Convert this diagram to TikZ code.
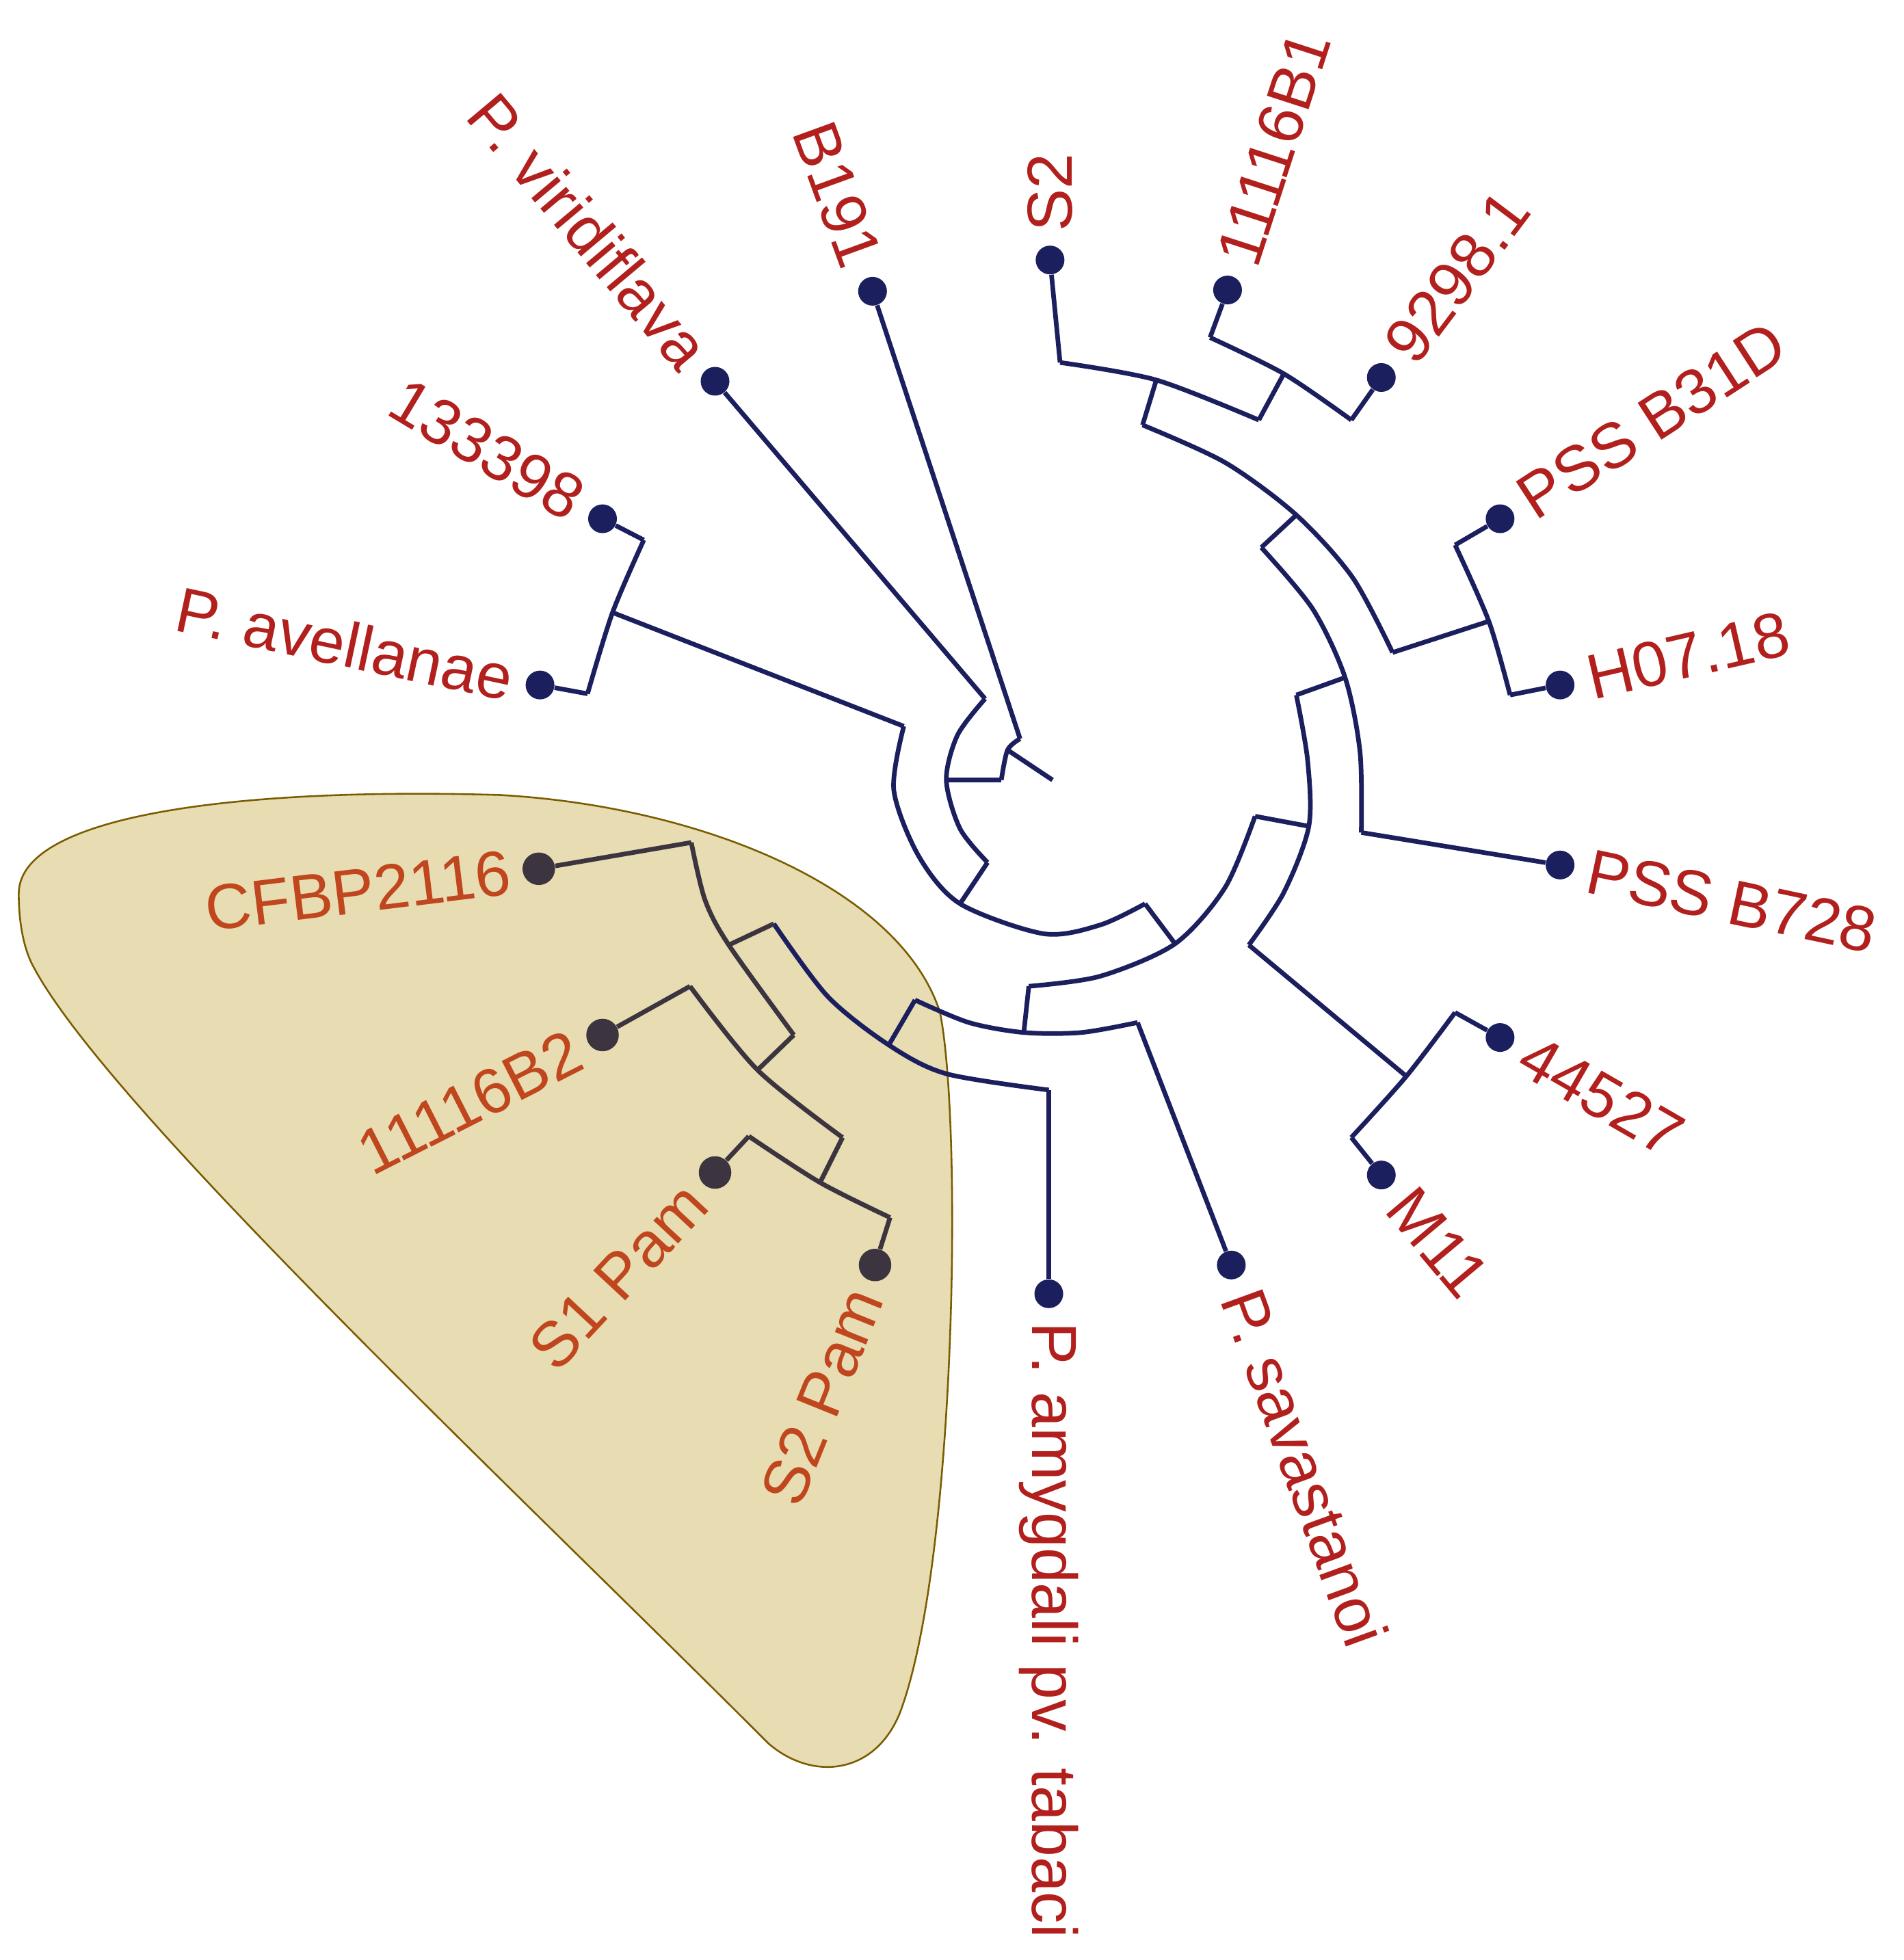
\documentclass[tikz,border=0pt]{standalone}
\usepackage{fontspec}
\setmainfont{Liberation Sans}
\begin{document}
\begin{tikzpicture}[x=0.02cm,y=-0.02cm,
  br/.style={draw=navy,line width=2.1pt,line join=round},
  brg/.style={draw=darkg,line width=2.1pt,line join=round},
  tip/.style={circle,fill=navy,minimum size=0.46cm,inner sep=0pt},
  tipg/.style={circle,fill=darkg,minimum size=0.52cm,inner sep=0pt},
  lr/.style={text=labred,font=\fontsize{29}{32}\selectfont,anchor=west,inner xsep=0.45cm},
  ll/.style={text=labred,font=\fontsize{29}{32}\selectfont,anchor=east,inner xsep=0.45cm},
  lg/.style={text=laborg,font=\fontsize{29}{32}\selectfont,anchor=east,inner xsep=0.45cm}]
\definecolor{navy}{RGB}{27,31,94}
\definecolor{darkg}{RGB}{60,52,62}
\definecolor{labred}{RGB}{178,32,30}
\definecolor{laborg}{RGB}{192,70,30}
\definecolor{shade}{RGB}{232,220,178}
\definecolor{shadeb}{RGB}{122,92,0}
\useasboundingbox (0,0) rectangle (1523,1568);
% shaded clade
\path[fill=shade,draw=shadeb,line width=0.8pt] (15,715) .. controls (15,650) and (200,630) .. (400,636) .. controls (560,645) and (720,710) .. (752,810) .. controls (770,900) and (765,1250) .. (720,1370) .. controls (700,1420) and (650,1425) .. (615,1395) .. controls (400,1180) and (80,880) .. (25,770) .. controls (18,755) and (15,735) .. (15,715);
% coordinates
\coordinate (root) at (842,624);
\coordinate (n0a) at (816,591); \coordinate (n0j) at (806,600); \coordinate (n0b) at (801,624);
\coordinate (n1a) at (788,559); \coordinate (n1j) at (757,624); \coordinate (n1b) at (790,690);
\coordinate (n2a) at (723,581); \coordinate (n2j) at (768,723); \coordinate (n2b) at (916,723);
\coordinate (ava) at (515,432); \coordinate (avj) at (490,490); \coordinate (avb) at (470,555);
\coordinate (n3a) at (823,789); \coordinate (n3j) at (940,755); \coordinate (n3b) at (1004,653);
\coordinate (n4a) at (1037,556); \coordinate (n4j) at (1047,661); \coordinate (n4b) at (999,756);
\coordinate (n5a) at (1009,438); \coordinate (n5j) at (1076,542); \coordinate (n5b) at (1089,666);
\coordinate (n6a) at (914,340); \coordinate (n6j) at (1037,412); \coordinate (n6b) at (1114,522);
\coordinate (ba) at (848,290); \coordinate (bj) at (925,304); \coordinate (bb) at (1007,336);
\coordinate (aa) at (968,270); \coordinate (aj) at (1027,299); \coordinate (ab) at (1081,336);
\coordinate (ca) at (1164,436); \coordinate (cj) at (1191,497); \coordinate (cb) at (1208,556);
\coordinate (ma) at (1164,810); \coordinate (mj) at (1125,861); \coordinate (mb) at (1081,910);
\coordinate (n7a) at (732,800); \coordinate (n7j) at (819,826); \coordinate (n7b) at (910,818);
\coordinate (n8a) at (619,739); \coordinate (n8j) at (711,836); \coordinate (n8b) at (839,872);
\coordinate (n9a) at (553,674); \coordinate (n9j) at (583,756); \coordinate (n9b) at (635,828);
\coordinate (n10a) at (552,789); \coordinate (n10j) at (606,856); \coordinate (n10b) at (674,910);
\coordinate (n11a) at (599,909); \coordinate (n11j) at (656,946); \coordinate (n11b) at (712,974);
% arcs
\draw[br] plot[smooth] coordinates {(n0a) (n0j) (n0b)};
\draw[br] plot[smooth] coordinates {(n1a) (766,588) (n1j) (768,663) (n1b)};
\draw[br] plot[smooth] coordinates {(n2a) (715,632) (735,685) (n2j) (835,747) (880,740) (n2b)};
\draw[br] plot[smooth] coordinates {(ava) (avj) (avb)};
\draw[br] plot[smooth] coordinates {(n3a) (880,781) (n3j) (980,710) (n3b)};
\draw[br] plot[smooth] coordinates {(n4a) (1046,608) (n4j) (1027,714) (n4b)};
\draw[br] plot[smooth] coordinates {(n5a) (1050,487) (n5j) (1088,602) (n5b)};
\draw[br] plot[smooth] coordinates {(n6a) (980,370) (n6j) (1082,462) (n6b)};
\draw[br] plot[smooth] coordinates {(ba) (bj) (bb)};
\draw[br] plot[smooth] coordinates {(aa) (aj) (ab)};
\draw[br] plot[smooth] coordinates {(ca) (cj) (cb)};
\draw[br] plot[smooth] coordinates {(ma) (mj) (mb)};
\draw[br] plot[smooth] coordinates {(n7a) (775,818) (n7j) (865,826) (n7b)};
\draw[br] plot[smooth] coordinates {(n8a) (662,797) (n8j) (757,859) (n8b)};
\draw[brg] plot[smooth] coordinates {(n9a) (564,720) (n9j) (n9b)};
\draw[brg] plot[smooth] coordinates {(n10a) (n10j) (n10b)};
\draw[brg] plot[smooth] coordinates {(n11a) (n11j) (n11b)};
% radial connectors
\draw[br] (root) -- (n0j);
\draw[br] (n0b) -- (n1j);
\draw[br] (n1b) -- (n2j);
\draw[br] (n2a) -- (avj);
\draw[br] (n2b) -- (n3j);
\draw[br] (n3b) -- (n4j);
\draw[br] (n4a) -- (n5j);
\draw[br] (n4b) -- (mj);
\draw[br] (n5a) -- (n6j);
\draw[br] (n6a) -- (bj);
\draw[br] (n6b) -- (cj);
\draw[br] (bb) -- (aj);
\draw[br] (n3a) -- (n7j);
\draw[br] (n7a) -- (n8j);
\draw[brg] (n8a) -- (n9j);
\draw[brg] (n9b) -- (n10j);
\draw[brg] (n10b) -- (n11j);
% tips
\node[tip] (tAve) at (432,548) {};
\node[tip] (t133) at (482,415) {};
\node[tip] (tVir) at (572,305) {};
\node[tip] (tB191) at (698,233) {};
\node[tip] (tS2) at (840,208) {};
\node[tip] (t1B1) at (982,232) {};
\node[tip] (t929) at (1105,302) {};
\node[tip] (tB31) at (1200,415) {};
\node[tip] (tH07) at (1248,548) {};
\node[tip] (tB728) at (1248,692) {};
\node[tip] (t445) at (1200,830) {};
\node[tip] (tM11) at (1105,940) {};
\node[tip] (tSav) at (985,1012) {};
\node[tip] (tAmy) at (839,1035) {};
\node[tipg] (tS2P) at (700,1012) {};
\node[tipg] (tS1P) at (572,938) {};
\node[tipg] (t1B2) at (482,828) {};
\node[tipg] (tCF) at (431,695) {};
\draw[br] (avb) -- (tAve);
\draw[br] (ava) -- (t133);
\draw[br] (n1a) -- (tVir);
\draw[br] (n0a) -- (tB191);
\draw[br] (ba) -- (tS2);
\draw[br] (aa) -- (t1B1);
\draw[br] (ab) -- (t929);
\draw[br] (ca) -- (tB31);
\draw[br] (cb) -- (tH07);
\draw[br] (n5b) -- (tB728);
\draw[br] (ma) -- (t445);
\draw[br] (mb) -- (tM11);
\draw[br] (n7b) -- (tSav);
\draw[br] (n8b) -- (tAmy);
\draw[brg] (n11b) -- (tS2P);
\draw[brg] (n11a) -- (tS1P);
\draw[brg] (n10a) -- (t1B2);
\draw[brg] (n9a) -- (tCF);
% labels
\node[ll,rotate=-12] (lAve) at (tAve) {P. avellanae};
\node[ll,rotate=-31] (l133) at (t133) {133398};
\node[ll,rotate=-50] (lVir) at (tVir) {P. viridiflava};
\node[ll,rotate=-70] (lB191) at (tB191) {B191};
\node[lr,rotate=90] (lS2) at (tS2) {S2};
\node[lr,rotate=72] (l1B1) at (t1B1) {11116B1};
\node[lr,rotate=53] (l929) at (t929) {9298.1};
\node[lr,rotate=33] (lB31) at (tB31) {PSS B31D};
\node[lr,rotate=13] (lH07) at (tH07) {H07.18};
\node[lr,rotate=-12] (lB728) at (tB728) {PSS B728};
\node[lr,rotate=-30] (l445) at (t445) {44527};
\node[lr,rotate=-50] (lM11) at (tM11) {M11};
\node[lr,rotate=-70] (lSav) at (tSav) {P. savastanoi};
\node[lr,rotate=-90] (lAmy) at (tAmy) {P. amygdali pv. tabaci};
\node[lg,rotate=68] (lS2P) at (tS2P) {S2 Pam};
\node[lg,rotate=47] (lS1P) at (tS1P) {S1 Pam};
\node[lg,rotate=27] (l1B2) at (t1B2) {11116B2};
\node[lg,rotate=7] (lCF) at (tCF) {CFBP2116};
\end{tikzpicture}
\end{document}
